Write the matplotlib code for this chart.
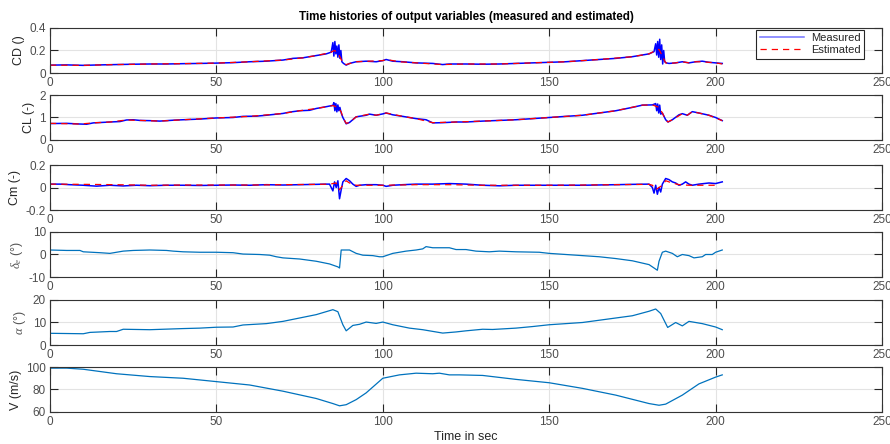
import matplotlib
matplotlib.use("Agg")
import matplotlib.pyplot as plt

plt.rcParams['font.family'] = ['Liberation Sans', 'DejaVu Sans']
plt.rcParams['mathtext.fontset'] = 'custom'
plt.rcParams['mathtext.it'] = 'Liberation Serif:italic'

# drag coefficient, measured
t_cd = [0, 5, 10, 15, 20, 25, 30, 35, 40, 45, 50, 55, 60, 65, 70, 73, 76, 80, 83, 84.5,
        85, 85.3, 85.6, 85.9, 86.2, 86.5, 86.8, 87.1, 87.4, 87.7, 88.2, 89, 90, 92, 95,
        98, 100, 101, 103, 106, 110, 115, 118, 120, 125, 130, 135, 140, 145, 150, 155,
        160, 165, 170, 175, 178, 180, 181.5, 182, 182.3, 182.6, 182.9, 183.2, 183.5,
        183.8, 184.1, 184.4, 184.7, 185.2, 186, 188, 190, 192, 194, 196, 198, 200, 202]
cd_meas = [0.07, 0.072, 0.068, 0.072, 0.075, 0.078, 0.08, 0.08, 0.083, 0.085, 0.088, 0.092,
           0.1, 0.105, 0.115, 0.13, 0.135, 0.155, 0.17, 0.185,
           0.27, 0.15, 0.28, 0.17, 0.24, 0.14, 0.25, 0.13, 0.2, 0.1, 0.085, 0.07, 0.085, 0.1,
           0.105, 0.1, 0.11, 0.12, 0.105, 0.1, 0.09, 0.085, 0.075, 0.08, 0.08, 0.078, 0.08,
           0.085, 0.09, 0.095, 0.1, 0.11, 0.12, 0.13, 0.145, 0.16, 0.17, 0.19, 0.26, 0.16,
           0.28, 0.14, 0.3, 0.12, 0.25, 0.08, 0.2, 0.1, 0.09, 0.085, 0.09, 0.1, 0.09, 0.1,
           0.105, 0.095, 0.09, 0.085]

# drag coefficient, estimated
t_cd_est = [0, 10, 20, 30, 40, 50, 60, 70, 76, 80, 84, 85.5, 86.5, 87.5, 88.5, 89, 92, 96,
            100, 101, 105, 110, 118, 125, 135, 145, 155, 165, 175, 180, 182, 183, 184, 185,
            186, 188, 190, 192, 194, 196, 200, 202]
cd_est = [0.07, 0.068, 0.075, 0.08, 0.083, 0.088, 0.1, 0.115, 0.135, 0.155, 0.18, 0.2, 0.18,
          0.12, 0.08, 0.075, 0.1, 0.105, 0.11, 0.12, 0.1, 0.09, 0.075, 0.08, 0.08, 0.09, 0.1,
          0.12, 0.145, 0.17, 0.2, 0.21, 0.15, 0.09, 0.085, 0.09, 0.1, 0.09, 0.1, 0.1, 0.09,
          0.08]

# lift coefficient, measured
t_cl = [0, 5, 9, 11, 13, 18, 21, 23, 25, 27, 30, 33, 37, 40, 45, 50, 55, 58, 62, 65, 70,
        72, 75, 78, 80, 83, 85, 85.3, 85.6, 85.9, 86.2, 86.5, 86.8, 87.1, 87.5, 88, 89,
        90, 92, 95, 96, 98, 100, 101, 103, 106, 110, 113, 115, 118, 122, 125, 130, 135,
        140, 145, 150, 155, 160, 165, 170, 175, 178, 181, 182, 182.3, 182.6, 182.9, 183.2,
        183.5, 184, 185, 185.7, 187, 189, 190, 191.5, 193, 195, 198, 200, 202]
cl_meas = [0.73, 0.74, 0.71, 0.7, 0.76, 0.8, 0.82, 0.89, 0.9, 0.87, 0.86, 0.84, 0.88, 0.9,
           0.93, 0.98, 1.0, 1.05, 1.06, 1.1, 1.18, 1.24, 1.3, 1.32, 1.4, 1.48, 1.54, 1.66,
           1.3, 1.62, 1.25, 1.56, 1.3, 1.45, 1.2, 1.0, 0.72, 0.78, 1.03, 1.1, 1.15, 1.1,
           1.16, 1.2, 1.12, 1.05, 0.95, 0.9, 0.76, 0.77, 0.8, 0.8, 0.84, 0.87, 0.9, 0.95,
           1.0, 1.05, 1.1, 1.2, 1.3, 1.45, 1.55, 1.56, 1.62, 1.3, 1.6, 1.2, 1.55, 1.15,
           1.2, 0.9, 0.8, 0.9, 1.12, 1.17, 1.1, 1.26, 1.2, 1.1, 1.0, 0.86]

# lift coefficient, estimated
t_cl_est = [0, 9, 13, 18, 23, 27, 33, 40, 50, 60, 70, 75, 80, 85, 86.5, 87.5, 88, 89, 90,
            92, 96, 98, 101, 106, 110, 115, 122, 130, 140, 150, 160, 170, 178, 181, 183,
            184, 185, 185.7, 187, 190, 191.5, 193, 198, 202]
cl_est = [0.74, 0.71, 0.76, 0.8, 0.89, 0.87, 0.84, 0.9, 0.98, 1.05, 1.18, 1.3, 1.4, 1.53,
          1.45, 1.25, 1.0, 0.74, 0.78, 1.03, 1.15, 1.1, 1.2, 1.05, 0.95, 0.77, 0.8, 0.84,
          0.9, 1.0, 1.1, 1.3, 1.55, 1.56, 1.45, 1.2, 0.9, 0.8, 0.9, 1.17, 1.1, 1.26, 1.1,
          0.86]

# pitching moment coefficient, measured
t_cm = [0, 3, 6, 10, 14, 18, 22, 26, 30, 35, 40, 45, 50, 55, 60, 65, 70, 75, 80, 83, 84,
        85, 85.5, 86, 86.5, 87, 87.5, 88, 89, 90, 91, 92, 93, 95, 98, 100, 101, 103, 106,
        110, 115, 120, 125, 130, 135, 140, 150, 160, 170, 175, 180, 181, 181.5, 182,
        182.5, 183, 183.5, 184, 185, 186, 187, 188, 189, 190, 191, 192, 193, 195, 198,
        200, 202]
cm_meas = [0.03, 0.03, 0.025, 0.02, 0.012, 0.02, 0.014, 0.02, 0.016, 0.02, 0.02, 0.018,
           0.02, 0.022, 0.02, 0.025, 0.022, 0.025, 0.028, 0.03, 0.03, -0.03, 0.05, 0.0,
           0.06, -0.1, -0.02, 0.05, 0.08, 0.06, 0.03, 0.01, 0.02, 0.025, 0.025, 0.02, 0.01,
           0.02, 0.025, 0.03, 0.03, 0.035, 0.03, 0.02, 0.015, 0.02, 0.02, 0.02, 0.025,
           0.028, 0.03, 0.0, -0.05, 0.02, -0.06, 0.0, -0.04, 0.03, 0.08, 0.07, 0.05, 0.04,
           0.02, 0.03, 0.05, 0.03, 0.02, 0.03, 0.04, 0.035, 0.05]

# pitching moment coefficient, estimated
t_cm_est = [0, 10, 20, 30, 40, 50, 60, 70, 80, 84, 86, 87, 88, 89, 90, 92, 100, 110, 120,
            130, 140, 150, 160, 170, 180, 181, 182, 183, 184, 185, 187, 189, 192, 196, 200]
cm_est = [0.03, 0.028, 0.025, 0.02, 0.022, 0.022, 0.022, 0.025, 0.028, 0.03, 0.04, -0.02,
          0.02, 0.06, 0.04, 0.02, 0.02, 0.025, 0.025, 0.02, 0.02, 0.02, 0.022, 0.025, 0.028,
          0.02, -0.02, 0.0, 0.02, 0.06, 0.04, 0.025, 0.02, 0.02, 0.02]

# elevator deflection (deg)
t_de = [0, 5, 9, 10, 15, 18, 20, 22, 25, 30, 35, 37, 40, 45, 50, 55, 58, 63, 66, 68, 70, 75,
        80, 84, 86.5, 87, 87.5, 90, 92, 94, 97, 99, 100, 101, 103, 107, 110, 112, 113, 115,
        118, 120, 122, 125, 128, 132, 135, 140, 147, 150, 155, 160, 165, 170, 175, 180,
        182.5, 183, 184, 185, 187, 188.5, 190, 192, 193.5, 196, 197, 199, 200, 202]
de = [2.0, 1.8, 1.8, 1.2, 0.8, 0.5, 1.0, 1.5, 1.8, 2.0, 1.8, 1.5, 1.2, 1.0, 1.0, 0.8, 0.2,
      0.0, -0.3, -1.0, -1.5, -2.0, -3.0, -4.2, -5.5, -6.0, 2.0, 2.0, 0.5, -0.3, -0.5, -1.0,
      -1.0, -0.5, 0.5, 1.5, 2.0, 2.5, 3.5, 3.0, 3.0, 3.0, 2.2, 2.2, 1.5, 1.2, 1.5, 1.2, 1.0,
      0.5, 0.0, -0.5, -1.0, -1.8, -2.8, -4.5, -7.0, -3.0, 1.0, 1.5, 0.5, -1.0, 0.0, -0.5,
      -1.5, -1.0, 0.0, 0.0, 1.0, 2.0]

# angle of attack (deg)
t_alpha = [0, 10, 12, 18, 20, 22, 30, 40, 45, 50, 55, 58, 65, 70, 75, 80, 85, 86.5, 88, 89,
           91, 93, 95, 98, 100, 103, 108, 112, 118, 122, 125, 130, 133, 140, 145, 150, 160,
           170, 175, 180, 182, 183.5, 185.6, 188, 190, 192, 196, 200, 202]
alpha = [5.2, 5.0, 5.6, 6.0, 6.0, 7.0, 6.8, 7.3, 7.5, 7.9, 8.0, 8.9, 9.5, 10.5, 12.0, 13.5,
         15.7, 14.8, 9.0, 6.3, 8.7, 9.2, 10.2, 9.6, 10.2, 9.0, 7.5, 6.8, 5.3, 5.8, 6.3, 7.0,
         6.9, 7.5, 8.2, 9.0, 10.0, 12.0, 13.0, 15.0, 16.0, 14.0, 7.8, 10.0, 8.5, 10.5, 9.5,
         8.0, 6.8]

# airspeed (m/s)
t_v = [0, 5, 10, 15, 20, 30, 40, 50, 60, 70, 80, 85, 87, 89, 92, 95, 100, 105, 110, 115, 117,
       120, 123, 130, 140, 150, 160, 170, 180, 183, 185, 190, 195, 200, 202]
v = [99.0, 99.0, 98.0, 96.0, 94.0, 91.5, 90.0, 87.0, 84.0, 78.5, 72.0, 67.5, 65.5, 66.5,
     71.0, 77.0, 90.0, 93.0, 94.5, 94.0, 94.5, 93.0, 93.0, 92.5, 89.0, 86.0, 81.0, 75.0,
     67.5, 66.0, 67.0, 75.0, 85.0, 91.0, 93.0]

fig = plt.figure(figsize=(8.9, 4.44), dpi=100)

left = 50 / 890
width = 832 / 890
height = 45 / 444
bottoms = [1 - 73 / 444, 1 - 140 / 444, 1 - 210 / 444, 1 - 277 / 444, 1 - 345 / 444,
           1 - 412 / 444]

axes = [fig.add_axes([left, b, width, height]) for b in bottoms]

blue = '#0000ff'
red = '#ff0000'
mblue = '#0072BD'

axes[0].plot(t_cd, cd_meas, color=blue, lw=1.1, label='Measured')
axes[0].plot(t_cd_est, cd_est, color=red, lw=0.9, ls=(0, (5, 4)), label='Estimated')
axes[1].plot(t_cl, cl_meas, color=blue, lw=1.1)
axes[1].plot(t_cl_est, cl_est, color=red, lw=0.9, ls=(0, (5, 4)))
axes[2].plot(t_cm, cm_meas, color=blue, lw=1.1)
axes[2].plot(t_cm_est, cm_est, color=red, lw=0.9, ls=(0, (5, 4)))
axes[3].plot(t_de, de, color=mblue, lw=0.9)
axes[4].plot(t_alpha, alpha, color=mblue, lw=0.9)
axes[5].plot(t_v, v, color=mblue, lw=0.9)

ylims = [(0, 0.4), (0, 2), (-0.2, 0.2), (-10, 10), (0, 20), (60, 100)]
yticks = [[0, 0.2, 0.4], [0, 1, 2], [-0.2, 0, 0.2], [-10, 0, 10], [0, 10, 20], [60, 80, 100]]
ylabels = ['CD ()', 'CL (-)', 'Cm (-)', r'$\delta_e$ (°)', r'$\alpha$ (°)', 'V (m/s)']

for ax, yl, yt, lab in zip(axes, ylims, yticks, ylabels):
    ax.set_xlim(0, 250)
    ax.set_ylim(*yl)
    ax.set_xticks([0, 50, 100, 150, 200, 250])
    ax.set_yticks(yt)
    ax.set_yticklabels([('%g' % y) for y in yt])
    ax.grid(True, color='#e3e3e3', lw=0.8)
    ax.set_axisbelow(True)
    ax.tick_params(direction='in', top=True, right=True, length=6, width=0.8,
                   labelsize=8.5, labelcolor='#4d4d4d', color='#262626', pad=3)
    for s in ax.spines.values():
        s.set_color('#333333')
        s.set_linewidth(0.8)
    ax.set_ylabel(lab, fontsize=9, color='#262626', labelpad=3)

axes[3].yaxis.label.set_color('#555555')
axes[4].yaxis.label.set_color('#555555')

leg = axes[0].legend(loc='upper right', bbox_to_anchor=(0.978, 0.96), fontsize=8,
                     handlelength=4.0, frameon=True, fancybox=False, framealpha=1,
                     edgecolor='#262626', borderaxespad=0, borderpad=0.3,
                     labelspacing=0.2, handletextpad=0.6)
leg.get_frame().set_linewidth(0.8)
for txt in leg.get_texts():
    txt.set_color('#262626')
leg.get_lines()[0].set_alpha(0.55)

fig.text(466 / 890, 1 - 17 / 444, 'Time histories of output variables (measured and estimated)',
         ha='center', va='center', fontsize=8.4, fontweight='bold', color='#000000')
fig.text(466 / 890, 1 - 437 / 444, 'Time in sec', ha='center', va='center', fontsize=9,
         color='#262626')

fig.savefig('out.png', dpi=100)
